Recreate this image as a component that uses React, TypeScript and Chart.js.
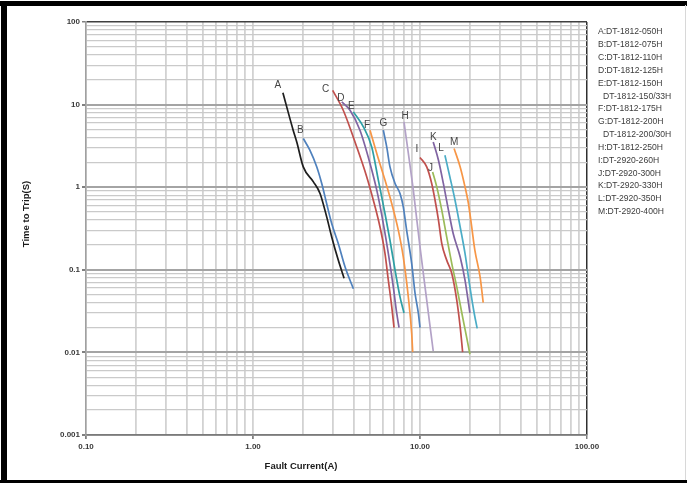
import React, { useEffect, useRef } from "react";
import { Chart, registerables } from "chart.js";

Chart.register(...registerables);

// ---- axis ticks ----
const xDecades = [0.1, 1, 10, 100];
const xTickLabels = ["0.10", "1.00", "10.00", "100.00"];
const yDecades = [0.001, 0.01, 0.1, 1, 10, 100];
const yTickLabels = ["0.001", "0.01", "0.1", "1", "10", "100"];

// ---- legend text (right side) ----
const legendLines = [
  "A:DT-1812-050H",
  "B:DT-1812-075H",
  "C:DT-1812-110H",
  "D:DT-1812-125H",
  "E:DT-1812-150H",
  "  DT-1812-150/33H",
  "F:DT-1812-175H",
  "G:DT-1812-200H",
  "  DT-1812-200/30H",
  "H:DT-1812-250H",
  "I:DT-2920-260H",
  "J:DT-2920-300H",
  "K:DT-2920-330H",
  "L:DT-2920-350H",
  "M:DT-2920-400H",
];

// ---- curves: fault current (A) and time to trip (s) ----
const curveLetters = ["A", "B", "C", "D", "E", "F", "G", "H", "I", "J", "K", "L", "M"];

const aCurrent = [1.51, 1.74, 1.83, 2.0, 2.3, 2.52, 2.76, 2.96, 3.24, 3.51];
const aTime = [13.9, 4.9, 3.5, 1.76, 1.16, 0.84, 0.44, 0.25, 0.131, 0.079];
const bCurrent = [2.0, 2.19, 2.41, 2.58, 2.76, 2.96, 3.24, 3.56, 3.99];
const bTime = [3.89, 2.81, 1.76, 1.11, 0.635, 0.363, 0.208, 0.108, 0.059];
const cCurrent = [3.0, 3.47, 4.18, 4.8, 5.25, 5.76, 6.17, 6.46, 6.77, 6.99];
const cTime = [14.9, 8.55, 3.07, 1.33, 0.7, 0.33, 0.158, 0.075, 0.036, 0.02];
const dCurrent = [3.4, 3.81, 4.37, 5.02, 5.51, 6.03, 6.46, 6.92, 7.25, 7.49];
const dTime = [10.8, 8.55, 4.9, 1.94, 0.92, 0.363, 0.158, 0.062, 0.03, 0.02];
const eCurrent = [3.99, 4.58, 5.14, 5.63, 6.17, 6.61, 7.09, 7.59, 8.02];
const eTime = [8.16, 5.37, 3.07, 1.22, 0.48, 0.228, 0.099, 0.047, 0.03];
const fCurrent = [5.02, 5.51, 6.17, 6.77, 7.42, 7.94, 8.51, 8.92, 9.04];
const fTime = [4.9, 2.56, 1.22, 0.635, 0.3, 0.143, 0.047, 0.0169, 0.0101];
const gCurrent = [6.03, 6.32, 6.61, 7.09, 7.59, 7.94, 8.32, 8.92, 9.34, 9.77, 10.0];
const gTime = [4.9, 3.07, 1.76, 1.11, 0.84, 0.577, 0.3, 0.119, 0.052, 0.03, 0.02];
const hCurrent = [8.02, 9.12, 10.0, 10.97, 12.0];
const hTime = [6.17, 0.92, 0.189, 0.043, 0.0104];
const iCurrent = [10.0, 10.97, 11.75, 12.3, 12.9, 13.5, 14.45, 15.5, 16.6, 17.4, 18.0];
const iTime = [2.29, 1.76, 1.11, 0.7, 0.4, 0.208, 0.131, 0.09, 0.043, 0.0204, 0.0101];
const jCurrent = [11.9, 12.6, 13.5, 14.45, 15.5, 16.6, 17.8, 19.0, 19.9];
const jTime = [1.53, 1.01, 0.527, 0.25, 0.119, 0.062, 0.03, 0.0154, 0.0095];
const kCurrent = [12.0, 12.9, 13.8, 14.8, 15.8, 17.4, 18.6, 19.9];
const kTime = [3.53, 2.12, 1.11, 0.527, 0.275, 0.143, 0.075, 0.03];
const lCurrent = [14.1, 15.1, 16.2, 17.4, 18.6, 19.9, 21.1, 22.0];
const lTime = [2.44, 1.33, 0.7, 0.33, 0.158, 0.062, 0.03, 0.0195];
const mCurrent = [16.0, 17.4, 18.6, 19.5, 20.4, 21.3, 22.9, 23.9];
const mTime = [2.94, 1.76, 1.01, 0.635, 0.33, 0.173, 0.082, 0.04];

const curveCurrents = [aCurrent, bCurrent, cCurrent, dCurrent, eCurrent, fCurrent, gCurrent, hCurrent, iCurrent, jCurrent, kCurrent, lCurrent, mCurrent];
const curveTimes = [aTime, bTime, cTime, dTime, eTime, fTime, gTime, hTime, iTime, jTime, kTime, lTime, mTime];

// ---- styles ----
const curveColors = [
  "#1e1e1e", "#4f81bd", "#c0504d", "#8064a2", "#2e9fa5", "#f79646", "#4f81bd",
  "#b3a2c7", "#c0504d", "#9bbb59", "#8064a2", "#4bacc6", "#f79646",
];
// pixel nudges of each letter relative to curve start
const letterNudges: [number, number][] = [
  [-5, -8], [-3, -8], [-7, -1], [-1, -4], [-2, -6], [-3, -5], [0, -7],
  [1, -6], [-3, -8], [-2, -4], [0, -5], [-4, -7], [0, -6],
];

const FONT = "'Liberation Sans', Arial, sans-serif";

function buildGrid(decades: number[]): number[] {
  const out: number[] = [];
  for (let i = 0; i < decades.length - 1; i++) {
    for (let k = 1; k <= 9; k++) out.push(Number((decades[i] * k).toPrecision(6)));
  }
  out.push(decades[decades.length - 1]);
  return out;
}
function decadeIndex(v: number, decades: number[]): number {
  for (let i = 0; i < decades.length; i++) {
    if (Math.abs(Math.log10(v) - Math.log10(decades[i])) < 1e-6) return i;
  }
  return -1;
}

const overlayPlugin = {
  id: "overlay",
  afterDraw(chart: any) {
    const ctx = chart.ctx as CanvasRenderingContext2D;
    ctx.save();
    // curve letters
    ctx.font = `10px ${FONT}`;
    ctx.fillStyle = "#444444";
    ctx.textAlign = "center";
    ctx.textBaseline = "middle";
    chart.data.datasets.forEach((ds: any, i: number) => {
      const meta = chart.getDatasetMeta(i);
      const p = meta.data[0];
      if (!p) return;
      const [dx, dy] = letterNudges[i];
      ctx.fillText(curveLetters[i], p.x + dx, p.y + dy);
    });
    // legend text
    ctx.textAlign = "left";
    ctx.font = `8.6px ${FONT}`;
    ctx.fillStyle = "#3c3c3c";
    legendLines.forEach((t, i) => {
      const indent = t.startsWith("  ");
      ctx.fillText(t.trim(), indent ? 603 : 598, 32 + i * 12.84);
    });
    // axis titles
    ctx.fillStyle = "#1a1a1a";
    ctx.font = `bold 9.5px ${FONT}`;
    ctx.textAlign = "center";
    ctx.fillText("Fault Current(A)", 301, 466);
    ctx.translate(26, 214);
    ctx.rotate(-Math.PI / 2);
    ctx.fillText("Time to Trip(S)", 0, 0);
    ctx.restore();
    // frame
    ctx.save();
    ctx.fillStyle = "#000";
    ctx.fillRect(0, 1, 687, 5);
    ctx.fillRect(1, 1, 6, 482);
    ctx.fillRect(0, 480, 687, 3);
    ctx.fillStyle = "#d8d8d8";
    ctx.fillRect(685, 5, 1, 475);
    ctx.restore();
  },
};

export default function App() {
  const ref = useRef<HTMLCanvasElement | null>(null);
  useEffect(() => {
    if (!ref.current) return;
    const xGrid = buildGrid(xDecades);
    const yGrid = buildGrid(yDecades);
    const datasets = curveLetters.map((letter, i) => ({
      label: letter,
      data: curveCurrents[i].map((x, j) => ({ x, y: curveTimes[i][j] })),
      borderColor: curveColors[i],
      backgroundColor: curveColors[i],
      borderWidth: 1.7,
      pointRadius: 0,
      fill: false,
      cubicInterpolationMode: "monotone" as const,
    }));
    const chart = new Chart(ref.current, {
      type: "line",
      data: { datasets },
      plugins: [overlayPlugin],
      options: {
        animation: false,
        responsive: false,
        layout: { padding: { left: 0, top: 22, right: 100, bottom: 0 } },
        plugins: { legend: { display: false }, tooltip: { enabled: false } },
        scales: {
          x: {
            type: "logarithmic",
            min: 0.1,
            max: 100,
            afterBuildTicks: (s: any) => {
              s.ticks = xGrid.map((v) => ({ value: v }));
            },
            afterFit: (s: any) => {
              s.height = 48;
            },
            ticks: {
              autoSkip: false,
              maxRotation: 0,
              padding: 3,
              font: { family: FONT, size: 8, weight: "bold" },
              color: "#3a3a3a",
              callback: (v: any) => {
                const i = decadeIndex(Number(v), xDecades);
                return i >= 0 ? xTickLabels[i] : "";
              },
            },
            grid: {
              color: (c: any) => {
                const v = c.tick ? c.tick.value : 0;
                if (decadeIndex(v, xDecades) === xDecades.length - 1) return "#303030";
                return "#d2d2d2";
              },
              lineWidth: (c: any) => {
                const v = c.tick ? c.tick.value : 0;
                if (decadeIndex(v, xDecades) === xDecades.length - 1) return 1.5;
                return 1.8;
              },
              tickColor: (c: any) => {
                const v = c.tick ? c.tick.value : 0;
                return decadeIndex(v, xDecades) >= 0 ? "#808080" : "rgba(0,0,0,0)";
              },
              tickLength: 4,
            },
            border: { display: true, color: "#7a7a7a", width: 1.5 },
          },
          y: {
            type: "logarithmic",
            min: 0.001,
            max: 100,
            afterBuildTicks: (s: any) => {
              s.ticks = yGrid.map((v) => ({ value: v }));
            },
            afterFit: (s: any) => {
              s.width = 86;
            },
            ticks: {
              autoSkip: false,
              padding: 2,
              font: { family: FONT, size: 8, weight: "bold" },
              color: "#3a3a3a",
              callback: (v: any) => {
                const i = decadeIndex(Number(v), yDecades);
                return i >= 0 ? yTickLabels[i] : "";
              },
            },
            grid: {
              color: (c: any) => {
                const v = c.tick ? c.tick.value : 0;
                const d = decadeIndex(v, yDecades);
                if (d === yDecades.length - 1) return "#404040";
                if (d >= 0) return "#a4a4a4";
                return "#cacaca";
              },
              lineWidth: (c: any) => {
                const v = c.tick ? c.tick.value : 0;
                const d = decadeIndex(v, yDecades);
                if (d === yDecades.length - 1) return 1.5;
                if (d >= 0) return 2;
                return 1.3;
              },
              tickColor: (c: any) => {
                const v = c.tick ? c.tick.value : 0;
                return decadeIndex(v, yDecades) >= 0 ? "#808080" : "rgba(0,0,0,0)";
              },
              tickLength: 4,
            },
            border: { display: true, color: "#a0a0a0", width: 1.5 },
          },
        },
      } as any,
    });
    return () => chart.destroy();
  }, []);

  return (
    <div style={{ position: "fixed", left: 0, top: 0, width: 687, height: 483, background: "#fff" }}>
      <canvas ref={ref} width={687} height={483} style={{ display: "block" }} />
    </div>
  );
}
